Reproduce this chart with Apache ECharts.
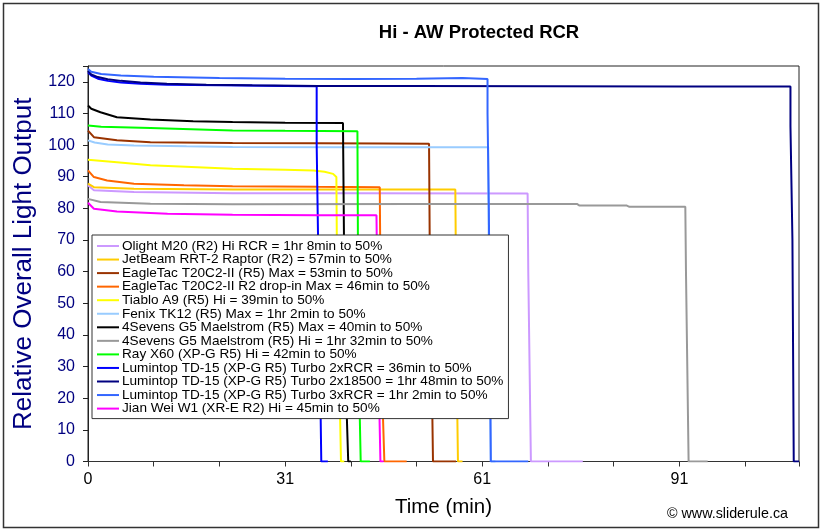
<!DOCTYPE html>
<html>
<head>
<meta charset="utf-8">
<script src="https://cdn.jsdelivr.net/npm/echarts@6/dist/echarts.min.js"></script>
<style>
html,body{margin:0;padding:0;background:#fff;}
#chart{width:823px;height:532px;}
</style>
</head>
<body>
<div id="chart"></div>
<script>
// ---- Data (time in minutes, relative output) ----
const TITLE = "Hi - AW Protected RCR";
const X_NAME = "Time (min)";
const Y_NAME = "Relative Overall Light Output";
const XTICK_VALUES = [0, 30, 60, 90];
const XTICK_TEXT = ["0", "31", "61", "91"];
const YTICK_VALUES = [0,10,20,30,40,50,60,70,80,90,100,110,120];

const SERIES_NAMES = [
  "Olight M20 (R2) Hi RCR = 1hr 8min to 50%",
  "JetBeam RRT-2 Raptor (R2) = 57min to 50%",
  "EagleTac T20C2-II (R5) Max = 53min to 50%",
  "EagleTac T20C2-II R2 drop-in Max = 46min to 50%",
  "Tiablo A9 (R5) Hi = 39min to 50%",
  "Fenix TK12 (R5) Max = 1hr 2min to 50%",
  "4Sevens G5 Maelstrom (R5) Max = 40min to 50%",
  "4Sevens G5 Maelstrom (R5) Hi = 1hr 32min to 50%",
  "Ray X60 (XP-G R5) Hi = 42min to 50%",
  "Lumintop TD-15 (XP-G R5) Turbo 2xRCR = 36min to 50%",
  "Lumintop TD-15 (XP-G R5) Turbo 2x18500 = 1hr 48min to 50%",
  "Lumintop TD-15 (XP-G R5) Turbo 3xRCR = 1hr 2min to 50%",
  "Jian Wei W1 (XR-E R2) Hi = 45min to 50%"
];

const olightM20 = [[0,87.3],[0.9,85.7],[7,85.2],[22,84.8],[40,84.8],[66.9,84.7],[67.0,60],[67.4,0],[75.3,0]];
const jetbeamRRT2 = [[0,87.8],[0.9,86.7],[7,86.2],[22,86.0],[40,86.0],[55.9,86.0],[56.0,60],[56.1,30],[56.3,0],[57,0]];
const eagletacR5 = [[0,104.6],[0.9,102.5],[4.4,101.5],[9.5,100.9],[22,100.7],[35,100.6],[45,100.5],[51.9,100.4],[52.0,70],[52.3,30],[52.5,0],[56,0]];
const eagletacR2 = [[0,92.0],[0.9,89.9],[2.9,88.8],[7,87.8],[14.6,87.3],[22,87.0],[35,86.8],[44.4,86.7],[44.5,60],[44.8,20],[45.1,0],[48.5,0]];
const tiabloA9 = [[0,95.4],[4.4,94.6],[9.5,93.6],[22,92.5],[30,92.2],[34.3,92.0],[36,91.6],[37.3,90.9],[37.8,89.9],[37.9,60],[38.3,20],[38.5,0],[39,0]];
const fenixTK12 = [[0,101.5],[1,100.8],[3,100.2],[7,99.9],[15,99.6],[22,99.4],[40,99.3],[50,99.3],[60.9,99.3],[61.0,60],[61.3,0],[62,0]];
const g5Max = [[0,112.5],[0.5,111.5],[1.9,110.4],[4.4,108.8],[9.5,108.1],[16,107.5],[22,107.3],[30,107.1],[38.8,107.0],[39.0,60],[39.3,20],[39.6,0],[40,0]];
const g5Hi = [[0,83.0],[1.9,82.0],[9.5,81.5],[22,81.3],[50,81.4],[74.4,81.4],[74.8,80.9],[82,80.9],[82.4,80.5],[90.9,80.5],[91.0,60],[91.4,0],[94.3,0]];
const rayX60 = [[0,106.2],[2,105.8],[9.5,105.4],[22,104.6],[30,104.5],[41.0,104.4],[41.1,60],[41.3,20],[41.5,0],[42.9,0]];
const td15_2xRCR = [[0,123.0],[0.5,122.0],[1.5,121.0],[3,120.3],[5,119.8],[8,119.4],[12,119.1],[20,118.9],[30,118.7],[34.8,118.6],[34.8,100],[35.3,30],[35.5,0],[36.5,0]];
const td15_2x18500 = [[0,123.5],[0.5,122.3],[1.5,121.5],[3,120.8],[5,120.3],[8,119.8],[12,119.4],[18,119.1],[25,118.9],[35,118.7],[50,118.7],[70,118.6],[90,118.5],[106.9,118.5],[106.9,106],[107.2,70],[107.4,0],[108.2,0]];
const td15_3xRCR = [[0,124.0],[0.5,123.2],[2,122.5],[5,122.0],[10,121.6],[20,121.2],[30,121.0],[40,120.9],[50,121.0],[57,121.2],[60.8,120.9],[60.8,110],[61.0,80],[61.3,0],[67,0]];
const jianWeiW1 = [[0,81.8],[0.9,79.9],[4.4,79.0],[12.1,78.3],[22,78.0],[35,77.8],[43.9,77.8],[44.0,60],[44.3,20],[44.5,0],[45,0]];

const SERIES_DATA = [olightM20, jetbeamRRT2, eagletacR5, eagletacR2, tiabloA9, fenixTK12, g5Max, g5Hi, rayX60, td15_2xRCR, td15_2x18500, td15_3xRCR, jianWeiW1];
const SERIES_COLORS = ["#CC99FF","#FFCC00","#993300","#FF6600","#FFFF00","#99CCFF","#000000","#999999","#00FF00","#0000FF","#000080","#3366FF","#FF00FF"];

const FONT = "'Liberation Sans', Arial, sans-serif";
const chart = echarts.init(document.getElementById('chart'), null, {renderer: 'canvas'});

const series = SERIES_NAMES.map((name, i) => ({
  name: name,
  type: 'line',
  data: SERIES_DATA[i],
  symbol: 'none',
  showSymbol: false,
  animation: false,
  lineStyle: {color: SERIES_COLORS[i], width: 2},
  itemStyle: {color: SERIES_COLORS[i]},
  z: 2 + i
}));

chart.setOption({
  animation: false,
  backgroundColor: '#ffffff',
  title: {
    text: TITLE,
    left: 474, top: 18, textAlign: 'center',
    textStyle: {fontFamily: FONT, fontSize: 18.5, fontWeight: 'bold', color: '#000'}
  },
  grid: {left: 88, right: 24, top: 66, bottom: 70.5, show: true, borderColor: '#222', borderWidth: 1, backgroundColor: 'transparent'},
  legend: {
    data: SERIES_NAMES.map(n => ({name: n, icon: 'path://M0,0L22,0L22,2L0,2Z'})),
    orient: 'vertical',
    left: 92, top: 235,
    backgroundColor: '#ffffff',
    borderColor: '#333', borderWidth: 1,
    padding: [4, 5, 3, 5],
    itemWidth: 22, itemHeight: 13, itemGap: -0.45,
    symbolKeepAspect: true,
    selectedMode: false,
    textStyle: {fontFamily: FONT, fontSize: 13.6, lineHeight: 13, color: '#000', padding: [0,0,0,-2]},
    z: 50
  },
  xAxis: {
    type: 'value', min: 0, max: 108.2, interval: 10,
    name: X_NAME, nameLocation: 'middle', nameGap: 35,
    nameTextStyle: {fontFamily: FONT, fontSize: 20.5, color: '#000'},
    axisLine: {show: true, lineStyle: {color: '#333', width: 1}},
    axisTick: {show: true, inside: false, length: 5, lineStyle: {color: '#333'}},
    axisLabel: {
      fontFamily: FONT, fontSize: 16, color: '#000', margin: 10,
      formatter: function(v){ const k = XTICK_VALUES.indexOf(Math.round(v*100)/100); return k >= 0 ? XTICK_TEXT[k] : ''; }
    },
    splitLine: {show: false}
  },
  yAxis: {
    type: 'value', min: 0, max: 125, interval: 10,
    name: Y_NAME, nameLocation: 'middle', nameGap: 51,
    nameTextStyle: {fontFamily: FONT, fontSize: 26, color: '#000080'},
    axisLine: {show: true, lineStyle: {color: '#222', width: 1}},
    axisTick: {show: true, inside: false, length: 5, lineStyle: {color: '#222'}},
    axisLabel: {
      fontFamily: FONT, fontSize: 16, color: '#000080', margin: 13,
      formatter: function(v){ return YTICK_VALUES.indexOf(v) >= 0 ? String(v) : ''; }
    },
    splitLine: {show: false}
  },
  graphic: [
    {type: 'rect', shape: {x: 3.5, y: 3.5, width: 815, height: 524}, style: {fill: 'none', stroke: '#333', lineWidth: 1.5}, z: 100, silent: true},
    {type: 'text', left: 667, top: 507, style: {text: '\u00A9 www.sliderule.ca', fontFamily: FONT, fontSize: 14.3, fill: '#000'}, z: 100}
  ],
  series: series
});
</script>
</body>
</html>
